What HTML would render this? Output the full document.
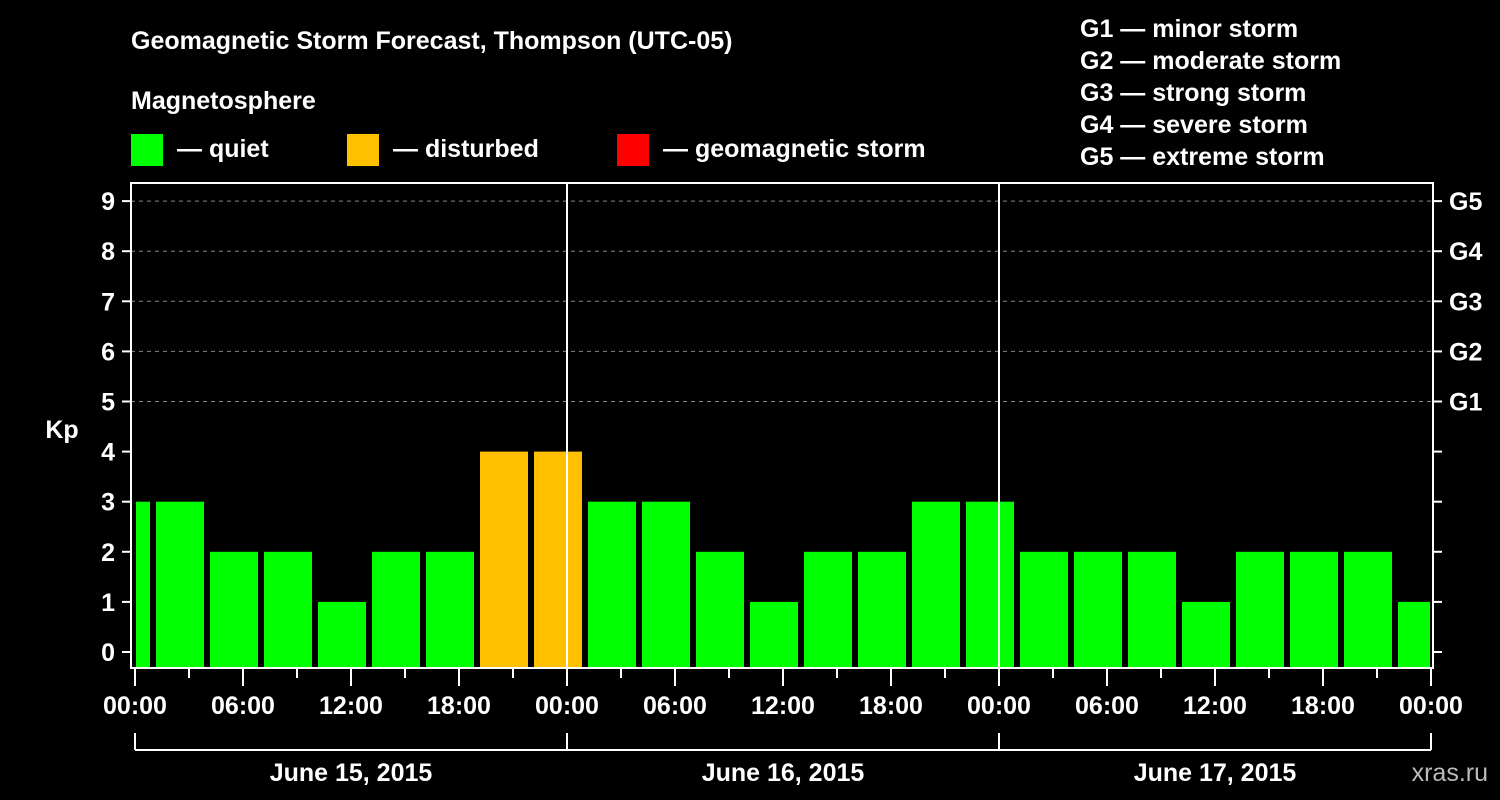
<!DOCTYPE html>
<html><head><meta charset="utf-8"><style>
body{margin:0;background:#000;}
svg{display:block;font-family:"Liberation Sans",Arial,sans-serif;font-weight:bold;}
</style></head><body>
<svg id="c" width="1500" height="800" viewBox="0 0 1500 800">
<rect width="1500" height="800" fill="#000"/>
<text x="131" y="49" fill="#fff" font-size="25">Geomagnetic Storm Forecast, Thompson (UTC-05)</text>
<text x="131" y="109" fill="#fff" font-size="25">Magnetosphere</text>
<g><rect x="131" y="134" width="32" height="32" fill="#00ff00"/><text x="177" y="157" fill="#fff" font-size="25">— quiet</text></g>
<g><rect x="347" y="134" width="32" height="32" fill="#ffc000"/><text x="393" y="157" fill="#fff" font-size="25">— disturbed</text></g>
<g><rect x="617" y="134" width="32" height="32" fill="#ff0000"/><text x="663" y="157" fill="#fff" font-size="25">— geomagnetic storm</text></g>
<g fill="#fff" font-size="25">
<text x="1080" y="37">G1 — minor storm</text>
<text x="1080" y="69">G2 — moderate storm</text>
<text x="1080" y="101">G3 — strong storm</text>
<text x="1080" y="133">G4 — severe storm</text>
<text x="1080" y="165">G5 — extreme storm</text>
</g>
<text x="62" y="438" fill="#fff" font-size="25" text-anchor="middle">Kp</text>
<text x="1488" y="781" fill="#bbb" font-size="25" text-anchor="end" font-weight="normal">xras.ru</text>
<g id="plot"></g>
</svg>
<script>
const kpValues=[3,3,2,2,1,2,2,4,4,3,3,2,1,2,2,3,3,2,2,2,1,2,2,2,1];
const yTicks=[0,1,2,3,4,5,6,7,8,9];
const gLabels=["G1","G2","G3","G4","G5"];
const xTickLabels=["00:00","06:00","12:00","18:00","00:00","06:00","12:00","18:00","00:00","06:00","12:00","18:00","00:00"];
const dayLabels=["June 15, 2015","June 16, 2015","June 17, 2015"];
const ns="http://www.w3.org/2000/svg";
const g=document.getElementById('plot');
const X0=135,PXH=18,L=131,R=1433,T=183,B=668;
const x=h=>X0+h*PXH;
const y=v=>652-v*50.1;
function el(t,a,p){const e=document.createElementNS(ns,t);for(const k in a)e.setAttribute(k,a[k]);(p||g).appendChild(e);return e;}
// grid
for(let v=5;v<=9;v++){const l=el('line',{x1:L,x2:R,y1:y(v),y2:y(v),stroke:'#888','stroke-dasharray':'4,4','stroke-width':1});

}
// bars
kpValues.forEach((v,i)=>{
 const hs=-2.1667+3*(i-1)+3-3+0; // slot start hour
 const s=(15+54*(i-1))/18; const e=s+3;
 const x1=Math.max(x(s)+6,X0+1), x2=Math.min(x(e),R-3);
 const r=el('rect',{x:x1,y:y(v),width:x2-x1,height:B-y(v),fill:v>=5?'#ff0000':(v>=4?'#ffc000':'#00ff00')});
 
 
});
// day separators
[24,48].forEach(h=>{const l=el('line',{x1:x(h),x2:x(h),y1:T,y2:B,stroke:'#fff','stroke-width':2});

});
// frame
const f=el('rect',{x:L,y:T,width:R-L,height:B-T,fill:'none',stroke:'#fff','stroke-width':2});


// y ticks
yTicks.forEach(v=>{
 el('line',{x1:122,x2:L,y1:y(v),y2:y(v),stroke:'#fff','stroke-width':2});
 el('line',{x1:R,x2:1442,y1:y(v),y2:y(v),stroke:'#fff','stroke-width':2});
 const t=el('text',{x:115,y:y(v)+9,fill:'#fff','font-size':25,'text-anchor':'end'});t.textContent=v;
 
 
});
gLabels.forEach((s,i)=>{const t=el('text',{x:1449,y:y(5+i)+9,fill:'#fff','font-size':25});t.textContent=s;
 
 });
// x ticks
for(let h=0;h<=72;h+=3){el('line',{x1:x(h),x2:x(h),y1:B,y2:h%6===0?686:678,stroke:'#fff','stroke-width':2});}
xTickLabels.forEach((s,i)=>{const t=el('text',{x:x(i*6),y:714,fill:'#fff','font-size':25,'text-anchor':'middle'});t.textContent=s;
 
 });
// day brackets
el('line',{x1:x(0),x2:x(72),y1:750,y2:750,stroke:'#fff','stroke-width':2});
[0,24,48,72].forEach(h=>el('line',{x1:x(h),x2:x(h),y1:733,y2:750,stroke:'#fff','stroke-width':2}));
dayLabels.forEach((s,i)=>{const t=el('text',{x:x(i*24+12),y:781,fill:'#fff','font-size':25,'text-anchor':'middle'});t.textContent=s;
 
 });
</script>
</body></html>
